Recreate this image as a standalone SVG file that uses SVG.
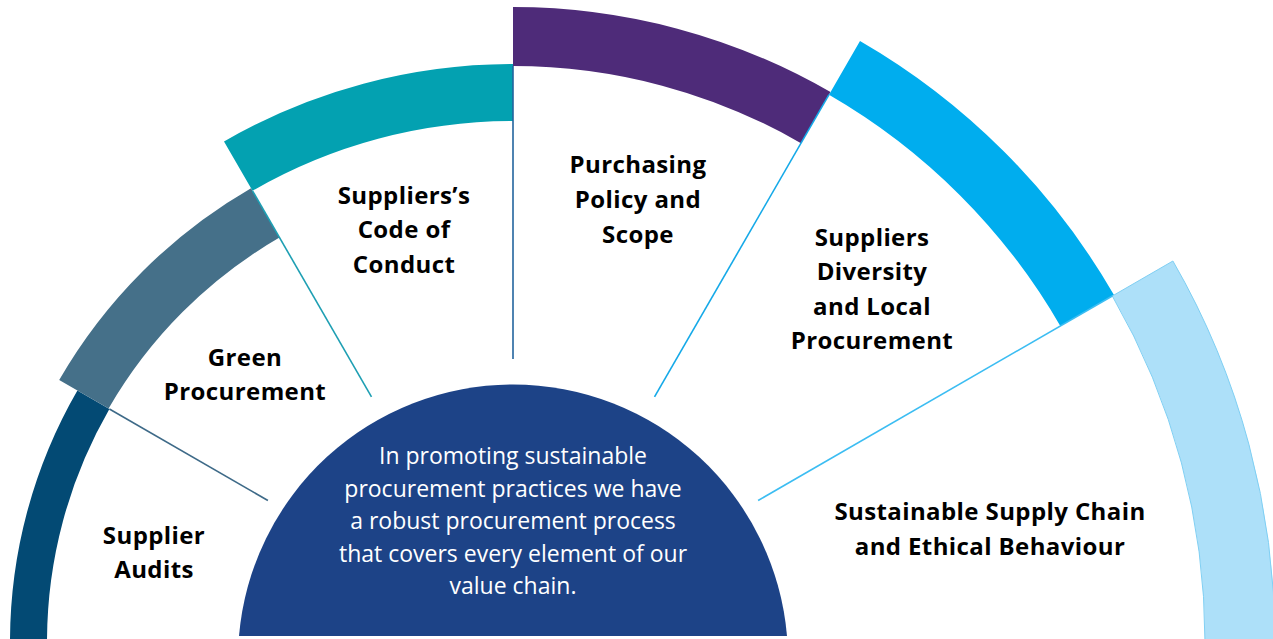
<svg xmlns="http://www.w3.org/2000/svg" width="1273" height="639" viewBox="0 0 1273 639">
<style>
.lbl{font-family:"Open Sans","Liberation Sans",sans-serif;font-weight:700;font-size:24px;letter-spacing:0.4px;fill:#000;text-anchor:middle}
.ctr{font-family:"Open Sans","Liberation Sans",sans-serif;font-weight:400;font-size:23px;fill:#fff;text-anchor:middle}
.ln{stroke-width:1.6;fill:none}
</style>
<rect width="1273" height="639" fill="#fff"/>
<g id="bands">
<g id="supplier-audits">
<path d="M10,642 A503,503 0 0 1 77.4,390.5 L109.4,409 A466,466 0 0 0 47,642 Z" fill="#034a74"/>
<text class="lbl" x="154" y="544">Supplier</text>
<text class="lbl" x="154" y="578">Audits</text>
</g>
<g id="green-procurement">
<path d="M59.2,380 A524,524 0 0 1 251,188.2 L279.5,237.6 A467,467 0 0 0 108.6,408.5 Z" fill="#457089"/>
<text class="lbl" x="245" y="366">Green</text>
<text class="lbl" x="245" y="400">Procurement</text>
</g>
<g id="code-of-conduct">
<path d="M224,141.4 A578,578 0 0 1 513,64 L513,121 A521,521 0 0 0 252.5,190.8 Z" fill="#03a1b1"/>
<text class="lbl" x="404" y="204">Suppliers’s</text>
<text class="lbl" x="404" y="238">Code of</text>
<text class="lbl" x="404" y="273">Conduct</text>
</g>
<g id="purchasing-policy">
<path d="M513,7 A635,635 0 0 1 830.5,92.1 L801,143.2 A576,576 0 0 0 513,66 Z" fill="#4e2b79"/>
<text class="lbl" x="638" y="173">Purchasing</text>
<text class="lbl" x="638" y="208">Policy and</text>
<text class="lbl" x="638" y="243">Scope</text>
</g>
<g id="suppliers-diversity">
<path d="M860,41 A694,694 0 0 1 1114,295 L1060.3,326 A632,632 0 0 0 829,94.7 Z" fill="#00adee"/>
<text class="lbl" x="872" y="246">Suppliers</text>
<text class="lbl" x="872" y="280">Diversity</text>
<text class="lbl" x="872" y="315">and Local</text>
<text class="lbl" x="872" y="349">Procurement</text>
</g>
<g id="sustainable-supply-chain">
<path d="M1172.9,261 A762,762 0 0 1 1275,642 L1205,642 A692,692 0 0 0 1112.3,296 Z" fill="#ade0f9" stroke="#7fcff3" stroke-width="1"/>
<text class="lbl" x="990" y="520">Sustainable Supply Chain</text>
<text class="lbl" x="990" y="555">and Ethical Behaviour</text>
</g>
</g>
<g id="connectors">
<line class="ln" x1="267.9" y1="500.5" x2="109.4" y2="409" stroke="#3e6a88"/>
<line class="ln" x1="371.5" y1="396.9" x2="252.5" y2="190.8" stroke="#1e9fb3"/>
<line class="ln" x1="513" y1="359" x2="513" y2="66" stroke="#23649e"/>
<line class="ln" x1="654.5" y1="396.9" x2="829" y2="94.7" stroke="#15a9e8"/>
<line class="ln" x1="758.1" y1="500.5" x2="1112.3" y2="296" stroke="#3cbdf2"/>
</g>
<g id="center">
<path d="M239,636 A275,275 0 0 1 787,636 Z" fill="#1d4387"/>
<text class="ctr" x="513" y="464">In promoting sustainable</text>
<text class="ctr" x="513" y="497">procurement practices we have</text>
<text class="ctr" x="513" y="529">a robust procurement process</text>
<text class="ctr" x="513" y="562">that covers every element of our</text>
<text class="ctr" x="513" y="594">value chain.</text>
</g>
</svg>
